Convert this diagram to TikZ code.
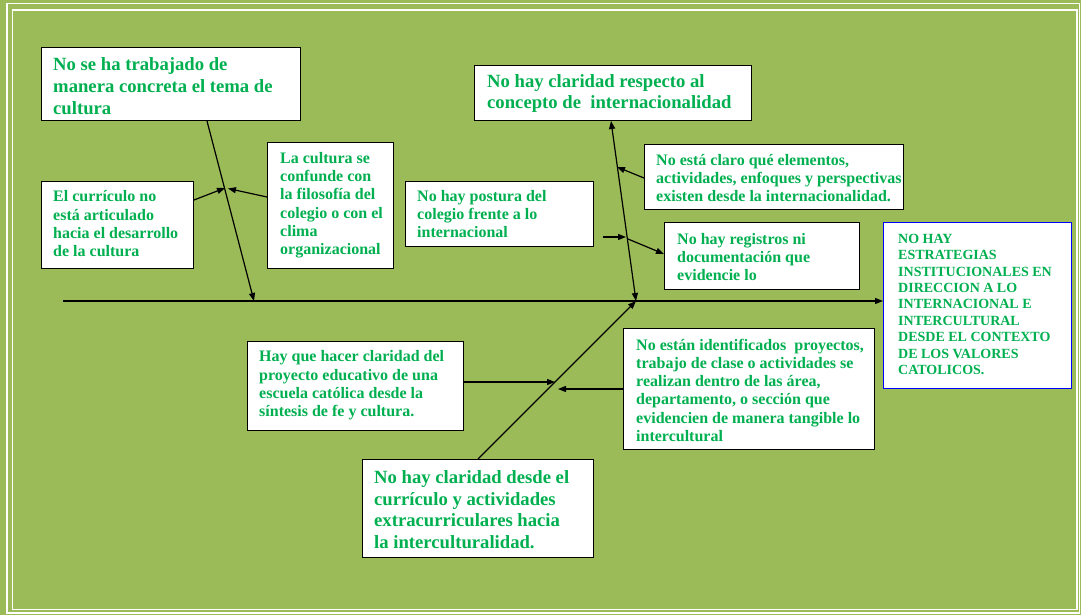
\documentclass[tikz,border=0pt]{standalone}
\usepackage{fontspec}
\setmainfont{Liberation Serif}
\usetikzlibrary{arrows.meta,calc}
\definecolor{bggreen}{HTML}{9BBB59}
\definecolor{txtgreen}{HTML}{00B050}
\begin{document}
\begin{tikzpicture}[x=1pt,y=-1pt,
  box/.style={draw=black, line width=1pt, fill=white, inner sep=0pt, anchor=north west},
  effbox/.style={box, draw=blue, line width=1.2pt},
  txt/.style={anchor=base west, inner sep=0pt, align=left, text=txtgreen, font=\bfseries\fontsize{16}{18.3}\selectfont},
  bigtxt/.style={txt, font=\bfseries\fontsize{18.67}{21.7}\selectfont},
  efftxt/.style={txt, font=\bfseries\fontsize{14}{16.4}\selectfont},
  conn/.style={line width=1.2pt, -{Triangle[length=8pt,width=6pt]}},
  conntwo/.style={line width=1.2pt, {Triangle[length=8pt,width=6pt]}-{Triangle[length=8pt,width=6pt]}},
  frameline/.style={draw=white, line width=1.5pt}
]
\fill[bggreen] (0,0) rectangle (1081,615);
\useasboundingbox (0,0) rectangle (1081,615);
\draw[frameline] (7,3.5) rectangle (1079.5,613);
\draw[frameline] (12.5,10) rectangle (1077,609.5);

% boxes
\node[box, minimum width=259pt, minimum height=73pt] (b1) at (41,47) {};
\node[box, minimum width=152pt, minimum height=87pt] (b2) at (41,181) {};
\node[box, minimum width=126pt, minimum height=126pt] (b3) at (267,142) {};
\node[box, minimum width=277pt, minimum height=55pt] (b4) at (474,65) {};
\node[box, minimum width=259pt, minimum height=65pt] (b5) at (644,144) {};
\node[box, minimum width=188pt, minimum height=65pt] (b6) at (405,181) {};
\node[box, minimum width=195pt, minimum height=67pt] (b7) at (664,222) {};
\node[effbox, minimum width=188pt, minimum height=166pt] (b8) at (883,222) {};
\node[box, minimum width=216pt, minimum height=89pt] (b9) at (247,341) {};
\node[box, minimum width=231pt, minimum height=98pt] (b10) at (362,459) {};
\node[box, minimum width=251pt, minimum height=121pt] (b11) at (623,328) {};

% texts (anchored at the baseline of their last line)
\node[bigtxt] (t1) at (53,114.4) {No se ha trabajado de\\manera concreta el tema de\\cultura};
\node[txt] (t2) at (53,256.6) {El currículo no\\está articulado\\hacia el desarrollo\\de la cultura};
\node[txt] (t3) at (280,254.8) {La cultura se\\confunde con\\la filosofía del\\colegio o con el\\clima\\organizacional};
\node[bigtxt, font=\bfseries\fontsize{18.67}{21}\selectfont] (t4) at (487,109) {No hay claridad respecto al\\concepto de\ \ internacionalidad};
\node[txt] (t5) at (656,201.6) {No está claro qué elementos,\\actividades, enfoques y perspectivas\\existen desde la internacionalidad.};
\node[txt] (t6) at (417,237.6) {No hay postura del\\colegio frente a lo\\internacional};
\node[txt] (t7) at (677,280.6) {No hay registros ni\\documentación que\\evidencie lo};
\node[efftxt] (t8) at (898,374.5) {NO HAY\\ESTRATEGIAS\\INSTITUCIONALES EN\\DIRECCION A LO\\INTERNACIONAL E\\INTERCULTURAL\\DESDE EL CONTEXTO\\DE LOS VALORES\\CATOLICOS.};
\node[txt] (t9) at (259,416.6) {Hay que hacer claridad del\\proyecto educativo de una\\escuela católica desde la\\síntesis de fe y cultura.};
\node[bigtxt] (t10) at (374,548.4) {No hay claridad desde el\\currículo y actividades\\extracurriculares hacia\\la interculturalidad.};
\node[txt] (t11) at (636,441.5) {No están identificados\ \ proyectos,\\trabajo de clase o actividades se\\realizan dentro de las área,\\departamento, o sección que\\evidencien de manera tangible lo\\intercultural};

% connectors
\coordinate (ax0) at (63,301);
\draw[conn] (ax0) -- (ax0 -| b8.west);
\coordinate (j1) at (254,301);
\coordinate (j2) at (636,301);
\draw[conn] ($(b1.south west)+(166,0)$) -- (j1);
\coordinate (p2) at (225,188);
\coordinate (p3) at (228,188.5);
\draw[conn] ($(b2.north east)+(0,19)$) -- (p2);
\draw[conn] ($(b3.north west)+(0,55)$) -- (p3);
\draw[conntwo] ($(b4.south west)+(137,0)$) -- (j2);
\coordinate (p5) at (617,167);
\draw[conn] ($(b5.north west)+(0,34)$) -- (p5);
\coordinate (p6) at (626,237);
\draw[conn] ($(b6.north east)+(9,56)$) -- (p6);
\coordinate (q7) at (628,239);
\draw[conn] (q7) -- ($(b7.north west)+(0,32)$);
\draw[conn] ($(b10.north west)+(116,0)$) -- (j2);
\coordinate (p9) at (555,382);
\draw[conn] ($(b9.north east)+(0,41)$) -- (p9);
\coordinate (p11) at (558,389);
\draw[conn] ($(b11.north west)+(0,61)$) -- (p11);
\end{tikzpicture}
\end{document}
